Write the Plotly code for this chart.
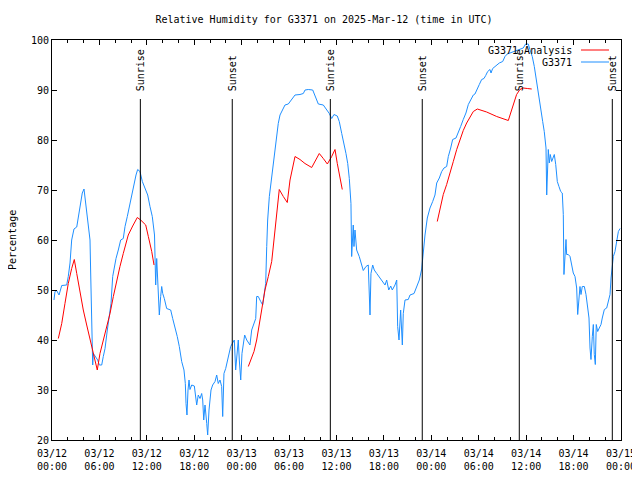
import datetime as dt
import plotly.graph_objects as go

BASE = dt.datetime(2025, 3, 12)

# G3371 observations: hours since 2025-03-12 00:00 UTC and relative humidity (%)
obs_hours = [0.25, 0.38, 0.59, 0.89, 1.23, 1.86, 2.06, 2.28, 2.49, 2.78, 3.13, 3.33, 3.63, 3.83, 4.05, 4.18, 4.39, 4.59, 4.81, 4.90,
             5.02, 5.15, 5.23, 5.44, 5.78, 5.99, 6.29, 6.49, 6.71, 7.00, 7.25, 7.47, 7.68, 7.88, 8.10, 8.39, 8.69, 9.02, 9.24, 9.53,
             9.78, 10.08, 10.38, 10.63, 10.84, 11.13, 11.43, 11.77, 12.11, 12.40, 12.69, 12.97, 13.03, 13.12, 13.25, 13.32, 13.45, 13.58, 13.75, 13.88,
             14.01, 14.21, 14.51, 15.02, 15.27, 15.56, 15.85, 16.11, 16.41, 16.70, 16.87, 16.96, 17.08, 17.21, 17.34, 17.46, 17.68, 18.01, 18.18, 18.31,
             18.51, 18.73, 18.94, 19.07, 19.20, 19.36, 19.58, 19.70, 19.87, 20.00, 20.12, 20.33, 20.63, 20.84, 21.04, 21.26, 21.47, 21.60, 21.76, 21.98,
             22.18, 22.40, 22.61, 22.81, 23.07, 23.24, 23.45, 23.57, 23.70, 23.88, 24.04, 24.21, 24.38, 24.64, 24.97, 25.05, 25.27, 25.47, 25.78, 25.90,
             26.10, 26.41, 26.66, 26.86, 27.04, 27.17, 27.29, 27.50, 27.80, 28.09, 28.34, 28.63, 28.85, 29.14, 29.48, 29.90, 30.33, 30.75, 31.38, 31.80,
             32.02, 32.43, 32.99, 33.28, 33.70, 34.33, 34.84, 35.09, 35.39, 35.68, 36.10, 36.35, 36.66, 36.95, 37.20, 37.42, 37.62, 37.83, 37.92, 38.12,
             38.21, 38.34, 38.55, 38.88, 39.19, 39.39, 39.73, 40.02, 40.24, 40.36, 40.58, 40.78, 41.09, 41.50, 41.85, 42.14, 42.35, 42.61, 42.86, 43.06,
             43.40, 43.62, 43.74, 43.91, 44.12, 44.33, 44.45, 44.67, 45.08, 45.30, 45.81, 46.15, 46.48, 46.78, 46.98, 47.20, 47.49, 47.83, 48.17, 48.46,
             48.68, 49.01, 49.31, 49.60, 49.94, 50.15, 50.45, 50.70, 51.12, 51.41, 51.71, 52.04, 52.38, 52.68, 52.98, 53.31, 53.52, 53.82, 54.07, 54.37,
             54.66, 54.88, 55.13, 55.42, 55.55, 55.76, 56.05, 56.35, 56.60, 57.03, 57.32, 57.61, 57.95, 58.37, 58.79, 59.21, 59.63, 59.93, 60.26, 60.48,
             60.77, 61.03, 61.24, 61.46, 61.62, 61.88, 62.09, 62.29, 62.51, 62.60, 62.67, 62.80, 62.93, 63.05, 63.23, 63.43, 63.56, 63.74, 63.94, 64.15,
             64.37, 64.57, 64.70, 64.78, 64.91, 65.04, 65.12, 65.33, 65.55, 65.76, 65.96, 66.18, 66.39, 66.52, 66.69, 66.81, 66.94, 67.10, 67.36, 67.57,
             67.79, 67.95, 68.08, 68.20, 68.37, 68.50, 68.62, 68.75, 68.87, 69.05, 69.25, 69.47, 69.63, 69.89, 70.19, 70.41, 70.61, 70.74, 70.90, 71.03,
             71.24, 71.46, 71.67, 71.88]
obs_rh = [48, 49.7, 49.9, 49, 50.9, 51, 52.7, 55.4, 60, 62.2, 62.6, 64.7, 67.4, 69.4, 70.2, 68.3, 65.4, 62.6, 60, 53,
          40.7, 35, 37.3, 36.7, 36, 35, 35, 36.7, 38.3, 42, 44.7, 47.3, 52.7, 54.7, 56.3, 58, 60, 60.3, 62.7, 64.7,
          66.7, 69.3, 71.3, 73, 74.1, 73.7, 71.7, 70.3, 69, 66.7, 64.7, 61, 54.7, 51, 56.3, 54, 48.7, 45, 48.7, 50.7,
          49.3, 48.3, 46.3, 46, 44.3, 42.7, 40.7, 38.7, 35.7, 34, 31.3, 27.3, 25, 30, 32, 30.1, 31, 30.8, 29, 27,
          29, 28.3, 29.3, 28, 24, 27, 23.3, 21, 26, 28, 30, 31, 31.7, 33, 31.3, 32, 30.7, 24.7, 33.3, 34.3,
          35.7, 37.3, 38.7, 39.3, 40, 34, 37.3, 40, 36, 32, 37.3, 39.3, 41, 40, 39.2, 39, 42, 43, 44.3, 48.7,
          48.7, 47.7, 47, 49.3, 51.3, 58.7, 64, 68.7, 72.7, 76, 80, 83.3, 85, 86, 87, 87.2, 88, 89, 89.1, 89.3,
          90, 90.1, 90, 89, 87.2, 87, 86, 85.3, 84.3, 85.1, 84.8, 83.7, 81.3, 79.3, 77.3, 75.3, 72.3, 67.3, 56.7, 63,
          58.7, 62, 58, 56.7, 54.7, 53.9, 54.7, 55, 45, 53.3, 55, 54, 53.3, 52.3, 51.7, 51, 52, 50, 50.8, 50,
          51, 52, 42.7, 40, 46, 39, 45.3, 48, 48.1, 49, 49.3, 50.7, 52, 54.2, 57.7, 61, 64.4, 66.4, 67.7, 69,
          71.4, 72.4, 73.7, 74.4, 74.7, 76.7, 78.4, 80.1, 80.4, 81.4, 82.7, 84.1, 85.4, 87.1, 87.9, 89, 89.2, 90.4, 91.1, 92.1,
          92.3, 92.9, 93.7, 94.1, 93.4, 94.3, 94.7, 95.2, 95.4, 95.7, 96.7, 97.2, 97.4, 97.7, 97.9, 98.1, 98.4, 99.2, 99.2, 98.1,
          96.7, 94.7, 92.4, 90.4, 88.1, 85.1, 83.7, 81.7, 78.4, 69, 72.4, 78.1, 75.4, 77.1, 75.7, 76.4, 77.1, 75.1, 71.7, 70.7,
          69.7, 69.4, 65.1, 53.1, 58.4, 60.1, 57.1, 57.1, 56.7, 54.7, 53.4, 52.7, 50.4, 45.1, 49.7, 50.7, 49.1, 50.7, 50.7, 49.1,
          46.4, 44.4, 38.4, 36.1, 40.7, 43.1, 37.1, 35.1, 43.1, 41.7, 42.4, 43.1, 44.4, 46.1, 46.4, 47.7, 49.1, 52.4, 55.1, 56.7,
          57.7, 60.1, 61.7, 62.3]

# G3371 Analysis (None = gap between analysis segments)
ana_hours = [0.80, 1.23, 1.64, 2.06, 2.49, 2.82, 3.13, 3.54, 3.96, 4.39, 4.81, 5.23, 5.73, 6.07, 6.49, 6.92, 7.34, 7.76, 8.19, 8.60,
             9.02, 9.65, 10.21, 10.79, 11.22, 11.86, 12.19, 12.62, 12.91, 18.0,
             24.84, 25.27, 25.56, 25.90, 26.23, 26.53, 26.95, 27.37, 27.80, 28.22, 28.51, 28.76, 29.27, 29.77, 30.12, 30.46, 30.75, 31.38, 32.01, 32.86,
             33.82, 34.33, 34.84, 35.39, 35.81, 36.10, 36.44, 36.73, 42.0,
             48.75, 49.10, 49.51, 49.94, 50.36, 50.78, 51.21, 51.63, 52.04, 52.47, 52.89, 53.31, 53.82, 55.00, 56.27, 57.10, 57.74, 58.04, 58.37, 58.79,
             59.21, 59.63, 60.14, 60.70]
ana_rh = [40.3, 43.3, 47.3, 51.3, 54.3, 56.1, 53.3, 49.3, 46, 43, 40.3, 37.3, 34, 37.3, 40, 42.7, 45.3, 48.7, 52, 54.7,
          57.3, 61, 62.8, 64.5, 64, 63, 60.7, 57.7, 55, None,
          34.7, 36.3, 37.7, 40, 43.3, 46.7, 50, 52.7, 55.7, 62, 67, 70.1, 68.7, 67.5, 72, 74.7, 76.7, 76.1, 75.3, 74.5,
          77.3, 76.3, 75.2, 76.7, 78.1, 75.3, 72.7, 70.1, None,
          63.7, 66.4, 69.1, 71.1, 73.7, 75.7, 78.1, 80.1, 81.9, 83.4, 84.7, 85.7, 86.2, 85.6, 84.7, 84.3, 83.9, 85.4, 87.1, 89.1,
          90.1, 90.4, 90.3, 90.2]

# Sun events (hours since start)
sun_hours = [11.18, 22.81, 35.22, 46.85, 59.13, 70.90]
sun_labels = ["Sunrise", "Sunset", "Sunrise", "Sunset", "Sunrise", "Sunset"]
sun_line_top = 88.2

tick_hours = [0, 6, 12, 18, 24, 30, 36, 42, 48, 54, 60, 66, 72]
tick_labels = ["03/12<br>00:00", "03/12<br>06:00", "03/12<br>12:00", "03/12<br>18:00",
               "03/13<br>00:00", "03/13<br>06:00", "03/13<br>12:00", "03/13<br>18:00",
               "03/14<br>00:00", "03/14<br>06:00", "03/14<br>12:00", "03/14<br>18:00",
               "03/15<br>00:00"]


def to_time(h):
    return (BASE + dt.timedelta(hours=h)).strftime("%Y-%m-%d %H:%M:%S")


FONT = "DejaVu Sans Mono"
RED = "#ff0000"
BLUE = "#1e8fff"

fig = go.Figure()
fig.add_trace(go.Scatter(x=[to_time(h) for h in obs_hours], y=obs_rh, mode="lines",
                         line=dict(color=BLUE, width=1), name="G3371", showlegend=False))
fig.add_trace(go.Scatter(x=[to_time(h) for h in ana_hours], y=ana_rh, mode="lines",
                         line=dict(color=RED, width=1), name="G3371 Analysis",
                         connectgaps=False, showlegend=False))

for h, lab in zip(sun_hours, sun_labels):
    fig.add_shape(type="line", xref="x", yref="y", x0=to_time(h), x1=to_time(h),
                  y0=20, y1=sun_line_top, line=dict(color="black", width=1))
    fig.add_annotation(x=to_time(h), y=sun_line_top + 1.2, xref="x", yref="y", text=lab,
                       textangle=-90, showarrow=False, xanchor="center", yanchor="bottom",
                       font=dict(family=FONT, size=10, color="black"))

# Legend (gnuplot style: right-aligned text, sample on the right)
legend_items = [("G3371 Analysis", RED, 0.975), ("G3371", BLUE, 0.945)]
for text, col, yy in legend_items:
    fig.add_annotation(x=0.9174, y=yy, xref="paper", yref="paper", text=text, showarrow=False,
                       xanchor="right", yanchor="middle", font=dict(family=FONT, size=10, color="black"))
    fig.add_shape(type="line", xref="paper", yref="paper", x0=0.9297, x1=0.9789, y0=yy, y1=yy,
                  line=dict(color=col, width=1))

fig.add_annotation(x=-0.0703, y=0.5, xref="paper", yref="paper", text="Percentage", textangle=-90,
                   showarrow=False, xanchor="center", yanchor="middle",
                   font=dict(family=FONT, size=10, color="black"))

# The page body adds an 8px offset, so the figure is sized to the remaining viewport.
fig.update_layout(
    width=632, height=472,
    margin=dict(l=44, r=19, t=32, b=40, autoexpand=False),
    paper_bgcolor="white", plot_bgcolor="white",
    font=dict(family=FONT, size=10, color="black"),
    title=dict(text="Relative Humidity for G3371 on 2025-Mar-12 (time in UTC)", x=0.5, xanchor="center",
               y=1 - 11 / 472, yanchor="middle", font=dict(family=FONT, size=10, color="black")),
    showlegend=False,
    xaxis=dict(type="date", range=[to_time(0), to_time(72)], automargin=False,
               tickvals=[to_time(h) for h in tick_hours], ticktext=tick_labels,
               ticks="inside", ticklen=5, tickcolor="black", mirror="ticks", ticklabelstandoff=4,
               showline=True, linecolor="black", linewidth=1, showgrid=False, zeroline=False,
               minor=dict(dtick=2 * 3600 * 1000, ticks="inside", ticklen=3, tickcolor="black", showgrid=False),
               tickfont=dict(family=FONT, size=10, color="black")),
    yaxis=dict(range=[20, 100], tickvals=[20, 30, 40, 50, 60, 70, 80, 90, 100], automargin=False,
               ticks="inside", ticklen=5, tickcolor="black", mirror="ticks",
               showline=True, linecolor="black", linewidth=1, showgrid=False, zeroline=False,
               tickfont=dict(family=FONT, size=10, color="black")),
)

fig.write_html("out.html")
